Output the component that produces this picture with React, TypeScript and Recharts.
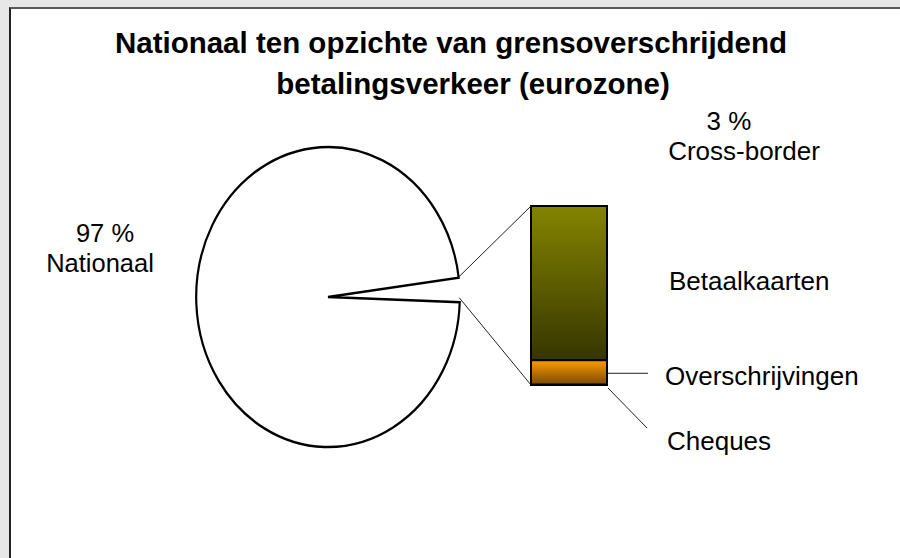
import React from 'react';
import { PieChart, Pie, Cell, BarChart, Bar, XAxis, YAxis } from 'recharts';

// pie: national vs cross-border share (%)
const pieNames = ['Cross-border', 'Nationaal'];
const pieValues = [2.6, 97.4];

// bar: breakdown of the cross-border part (% of cross-border)
const barNames = ['Betaalkaarten', 'Overschrijvingen', 'Cheques'];
const barValues = [86.1, 13.6, 0.3];

const titleLines = ['Nationaal ten opzichte van grensoverschrijdend', 'betalingsverkeer (eurozone)'];

const FONT = '"Liberation Sans", Arial, Helvetica, sans-serif';

// pie layout (page px); Excel stretches it into an ellipse
const PIE_CX = 327.5;
const PIE_CY = 296.7;
const PIE_R = 131.8;
const PIE_SY = 1.138;
const PIE_START = -2;
const PIE_BOX = 300;

const pieData = pieNames.map((name, i) => ({ name, value: pieValues[i] }));
const barRow: Record<string, string | number> = { name: 'cross' };
barNames.forEach((n, i) => {
  barRow[n] = barValues[i];
});
const barData = [barRow];

const gradients: Record<string, [string, string]> = {
  Betaalkaarten: ['#848400', '#363600'],
  Overschrijvingen: ['#ff9c00', '#7a4a00'],
  Cheques: ['#ffffff', '#c0c0c0'],
};

const pieTotal = pieValues.reduce((a, b) => a + b, 0);
const crossEnd = PIE_START + (360 * pieValues[0]) / pieTotal;
const edgePoint = (deg: number) => {
  const a = (deg * Math.PI) / 180;
  return { x: PIE_CX + PIE_R * Math.cos(a), y: PIE_CY - PIE_R * Math.sin(a) * PIE_SY };
};

const makeShape = (name: string) => (props: any) => {
  const { x, y, width, height } = props;
  const id = `grad-${name}`;
  const [c1, c2] = gradients[name];
  const right = x + width;
  const labelStyle = { fontFamily: FONT, fontSize: 26, fill: '#000' };
  let extra: React.ReactNode = null;
  if (name === 'Betaalkaarten') {
    const p = edgePoint(crossEnd);
    extra = (
      <>
        <line x1={p.x} y1={p.y} x2={x} y2={y} stroke="#222" strokeWidth={1} />
        <text x={right + 62} y={y + height / 2 + 7} {...labelStyle}>{name}</text>
      </>
    );
  } else if (name === 'Overschrijvingen') {
    extra = (
      <>
        <line x1={right + 1} y1={y + height / 2 + 1} x2={right + 41} y2={y + height / 2 + 1} stroke="#222" strokeWidth={1} />
        <text x={right + 58} y={y + height / 2 + 13} {...labelStyle}>{name}</text>
      </>
    );
  } else {
    const p = edgePoint(PIE_START + 1.6);
    extra = (
      <>
        <line x1={p.x} y1={p.y} x2={x} y2={y + height} stroke="#222" strokeWidth={1} />
        <line x1={right + 1} y1={y + height + 3} x2={right + 40} y2={y + height + 43} stroke="#222" strokeWidth={1} />
        <text x={right + 60} y={y + height + 65} {...labelStyle}>{name}</text>
      </>
    );
  }
  return (
    <g>
      <defs>
        <linearGradient id={id} x1="0" y1="0" x2="0" y2="1">
          <stop offset="0%" stopColor={c1} />
          <stop offset="100%" stopColor={c2} />
        </linearGradient>
      </defs>
      <rect x={x} y={y} width={width} height={Math.max(height, 0.5)} fill={`url(#${id})`} stroke="#000" strokeWidth={2} />
      {extra}
    </g>
  );
};

export default function App() {
  return (
    <div style={{ position: 'absolute', left: 0, top: 0, width: 900, height: 558, overflow: 'hidden', background: '#e7e7e7' }}>
      <div
        style={{
          position: 'absolute',
          left: 9,
          top: 7,
          width: 900,
          height: 560,
          background: '#fff',
          borderTop: '2px solid #5a5a5a',
          borderLeft: '2px solid #222',
        }}
      />
      <div
        style={{
          position: 'absolute',
          left: PIE_CX - PIE_BOX / 2,
          top: PIE_CY - PIE_BOX / 2,
          width: PIE_BOX,
          height: PIE_BOX,
          transform: `scaleY(${PIE_SY})`,
          transformOrigin: '50% 50%',
        }}
      >
        <PieChart width={PIE_BOX} height={PIE_BOX} margin={{ top: 0, right: 0, bottom: 0, left: 0 }}>
          <Pie
            data={pieData}
            dataKey="value"
            nameKey="name"
            cx={PIE_BOX / 2}
            cy={PIE_BOX / 2}
            innerRadius={0}
            outerRadius={PIE_R}
            startAngle={PIE_START}
            endAngle={PIE_START + 360}
            paddingAngle={0}
            isAnimationActive={false}
            labelLine={false}
            label={false}
          >
            <Cell fill="none" stroke="none" />
            <Cell fill="#fff" stroke="#000" strokeWidth={2.2} />
          </Pie>
        </PieChart>
      </div>
      <div style={{ position: 'absolute', left: 0, top: 0 }}>
        <BarChart
          width={900}
          height={558}
          data={barData}
          margin={{ top: 206, left: 531, right: 293, bottom: 173 }}
          barCategoryGap={0}
        >
          <XAxis dataKey="name" type="category" hide />
          <YAxis type="number" domain={[0, 100]} hide />
          {[...barNames].reverse().map((n) => (
            <Bar key={n} dataKey={n} stackId="s" isAnimationActive={false} shape={makeShape(n)} />
          ))}
        </BarChart>
      </div>
      <svg width={900} height={558} style={{ position: 'absolute', left: 0, top: 0, pointerEvents: 'none' }}>
        <g fontFamily={FONT} fontWeight="bold" fontSize={29.5} fill="#000" textAnchor="middle">
          <text x={451} y={53}>{titleLines[0]}</text>
          <text x={473} y={94}>{titleLines[1]}</text>
        </g>
        <g fontFamily={FONT} fontSize={25.5} fill="#000" textAnchor="middle">
          <text x={105} y={242}>{`${Math.round(pieValues[1])} %`}</text>
          <text x={100} y={272}>{pieNames[1]}</text>
        </g>
        <g fontFamily={FONT} fontSize={26} fill="#000" textAnchor="middle">
          <text x={729} y={130}>{`${Math.round(pieValues[0])} %`}</text>
          <text x={744} y={160}>{pieNames[0]}</text>
        </g>
      </svg>
    </div>
  );
}
